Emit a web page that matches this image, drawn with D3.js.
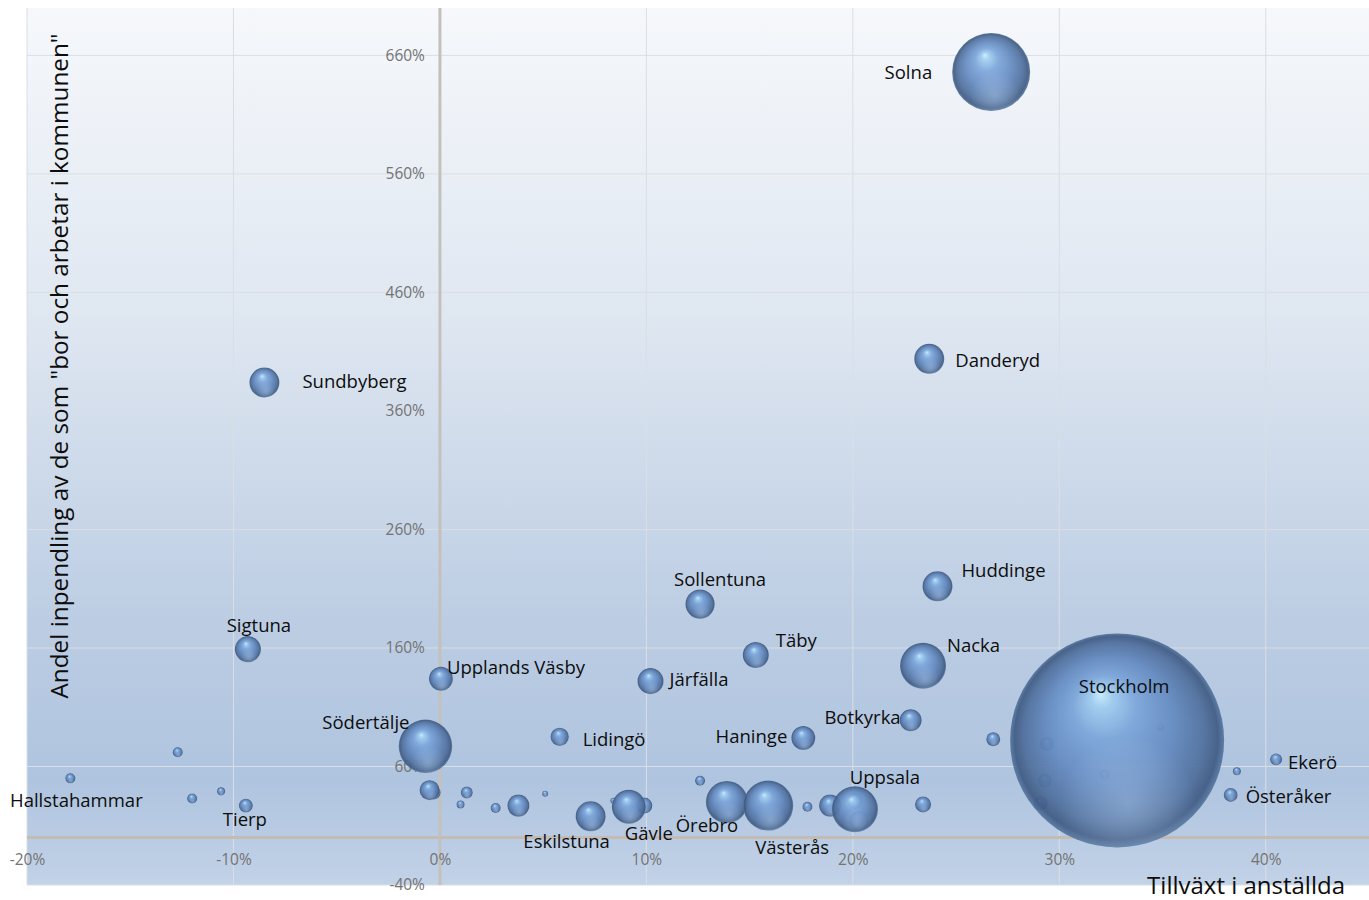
<!DOCTYPE html>
<html>
<head>
<meta charset="utf-8">
<script src="https://cdn.jsdelivr.net/npm/d3@7"></script>
<style>
  html, body { margin: 0; padding: 0; background: #ffffff; }
  svg { display: block; }
  text { font-family: "Open Sans", "DejaVu Sans", sans-serif; }
</style>
</head>
<body>
<svg id="chart" width="1369" height="900"></svg>
<script>
// ---------------- DATA ----------------
const municipalities = ["Solna","Danderyd","Sundbyberg","Huddinge","Sollentuna","Sigtuna","Täby","Nacka","Upplands Väsby","Järfälla","Stockholm","Botkyrka","Södertälje","Lidingö","Haninge","Ekerö","Österåker","Uppsala","Västerås","Örebro","Gävle","Eskilstuna","Hallstahammar","Tierp",
  "","","","","","","","","","","","","","","","","","","","","","","","",""];
// Tillväxt i anställda (%)
const growth = [26.7,23.7,-8.5,24.1,12.6,-9.3,15.3,23.4,0.05,10.2,32.8,22.8,-0.7,5.8,17.6,40.5,38.3,20.1,15.9,13.9,9.15,7.3,-17.9,-9.4,
  -12.7,-12.0,-10.6,-0.5,-0.3,1.0,1.3,2.7,3.8,5.1,8.4,9.9,12.6,17.8,18.9,20.1,20.3,23.4,26.8,29.4,29.3,29.1,32.2,34.9,38.6];
// Andel inpendling av de som "bor och arbetar i kommunen" (%)
const inpendling = [646,404,384,212,197,159,154,145,134,132,82,99,77,85,84,66,36,24,27,30,26,18,50,27,
  72,33,39,40,38,28,38,25,27,37,31,27,48,26,27,31,14,28,83,79,48,29,53,93,56];
// Bubble size (antal anställda, tusental)
const employees = [85,12.6,12.6,12.6,12,9.5,9.5,29.6,8,9.5,640,6.8,40,4.7,8,2.0,2.7,29.6,35,24.7,16.2,12.6,1.4,2.7,
  1.4,1.4,0.9,5.6,2.7,0.9,2.0,1.4,6.8,0.5,0.5,3.6,1.4,1.4,6.8,3.6,5.6,3.6,2.7,2.7,2.7,2.7,1.4,0.7,0.9];

const xTicks = [-20,-10,0,10,20,30,40];
const xTickLabels = ["-20%","-10%","0%","10%","20%","30%","40%"];
const yTicks = [-40,60,160,260,360,460,560,660];
const yTickLabels = ["-40%","60%","160%","260%","360%","460%","560%","660%"];

const xTitle = "Tillväxt i anställda";
const yTitle = "Andel inpendling av de som \"bor och arbetar i kommunen\"";

// ---------------- LAYOUT ----------------
const plot = { left: 27, right: 1369, top: 8, bottom: 885 };
// label placement relative to bubble centre
const labelPlacement = {
  "Solna": [-59, 0, "end"], "Danderyd": [26, 1, "start"], "Sundbyberg": [38, -2, "start"],
  "Huddinge": [24, -17, "start"], "Sollentuna": [20, -26, "middle"], "Sigtuna": [11, -25, "middle"],
  "Täby": [20, -16, "start"], "Nacka": [24, -21, "start"], "Upplands Väsby": [6, -12, "start"],
  "Järfälla": [19, -3, "start"], "Stockholm": [7, -55, "middle"], "Botkyrka": [-10, -4, "end"],
  "Södertälje": [-16, -25, "end"], "Lidingö": [23, 2, "start"], "Haninge": [-16, -3, "end"],
  "Ekerö": [12, 2, "start"], "Österåker": [15, 1, "start"], "Uppsala": [30, -33, "middle"],
  "Västerås": [24, 41, "middle"], "Örebro": [-20, 22, "middle"], "Gävle": [20, 26, "middle"],
  "Eskilstuna": [-24, 24, "middle"], "Hallstahammar": [6, 21, "middle"], "Tierp": [-1, 13, "middle"]
};

const svg = d3.select("#chart");
const defs = svg.append("defs");

const bg = defs.append("linearGradient").attr("id","bg").attr("x1",0).attr("y1",0).attr("x2",0).attr("y2",1);
[[0,"#f6f8fb"],[0.35,"#dfe7f1"],[0.7,"#bccde3"],[0.88,"#afc4df"],[1,"#c2d2e7"]].forEach(s =>
  bg.append("stop").attr("offset", s[0]).attr("stop-color", s[1]));

const bub = defs.append("radialGradient").attr("id","bubble")
  .attr("cx",0.5).attr("cy",0.5).attr("r",0.5).attr("fx",0.42).attr("fy",0.28);
[[0,"#c8effd"],[0.1,"#a0ccef"],[0.3,"#7ba5d9"],[0.6,"#6389bf"],[0.84,"#4f6f9c"],[0.95,"#3f5a83"],[1,"#56779f"]].forEach(s =>
  bub.append("stop").attr("offset", s[0]).attr("stop-color", s[1]));

const refl = defs.append("radialGradient").attr("id","refl")
  .attr("cx",0.55).attr("cy",0.8).attr("r",0.32);
[[0,"rgba(195,220,248,0.35)"],[1,"rgba(195,220,248,0)"]].forEach(s =>
  refl.append("stop").attr("offset", s[0]).attr("stop-color", s[1]));

const x = d3.scaleLinear().domain([-20, 45]).range([plot.left, plot.right]);
const y = d3.scaleLinear().domain([-40, 700]).range([plot.bottom, plot.top]);
const r = d3.scaleSqrt().domain([0, d3.max(employees)]).range([0, 107]);

// background
svg.append("rect").attr("x", plot.left).attr("y", plot.top)
  .attr("width", plot.right - plot.left).attr("height", plot.bottom - plot.top)
  .attr("fill", "url(#bg)");

// gridlines
svg.append("g").selectAll("line").data(xTicks).join("line")
  .attr("x1", d => x(d)).attr("x2", d => x(d)).attr("y1", plot.top).attr("y2", plot.bottom)
  .attr("stroke", "#dadee4").attr("stroke-width", 1);
svg.append("g").selectAll("line").data(yTicks).join("line")
  .attr("x1", plot.left).attr("x2", plot.right).attr("y1", d => y(d)).attr("y2", d => y(d))
  .attr("stroke", "#dadee4").attr("stroke-width", 1);

// axis lines
svg.append("line").attr("x1", plot.left).attr("x2", plot.right).attr("y1", y(0)).attr("y2", y(0))
  .attr("stroke", "#c4bcb3").attr("stroke-width", 3);
svg.append("line").attr("x1", x(0)).attr("x2", x(0)).attr("y1", plot.top).attr("y2", plot.bottom)
  .attr("stroke", "#c4c0bb").attr("stroke-width", 3);

// tick labels via d3 axes
const yAxis = svg.append("g").attr("transform", `translate(${x(0)},0)`)
  .call(d3.axisLeft(y).tickValues(yTicks).tickSize(0).tickPadding(15)
    .tickFormat((d, i) => yTickLabels[i]));
const xAxis = svg.append("g").attr("transform", `translate(0,${y(0)})`)
  .call(d3.axisBottom(x).tickValues(xTicks).tickSize(0).tickPadding(16)
    .tickFormat((d, i) => xTickLabels[i]));
[yAxis, xAxis].forEach(a => {
  a.select(".domain").remove();
  a.selectAll("text").attr("fill", "#737373").style("font-size", "15.5px")
    .style("font-family", "\"Open Sans\", sans-serif");
});

// bubbles
const data = municipalities.map((n, i) => ({ name: n, gx: growth[i], iy: inpendling[i], s: employees[i] }));
const order = data.slice().sort((a, b) => a.s - b.s);
const gB = svg.append("g");
order.forEach(d => {
  const cx = x(d.gx), cy = y(d.iy), rr = r(d.s);
  gB.append("circle").attr("cx", cx).attr("cy", cy).attr("r", rr)
    .attr("fill", "url(#bubble)").attr("fill-opacity", 0.92);
  gB.append("circle").attr("cx", cx).attr("cy", cy).attr("r", rr)
    .attr("fill", "url(#refl)");
});

// labels
const gL = svg.append("g");
data.filter(d => d.name).forEach(d => {
  const p = labelPlacement[d.name] || [r(d.s) + 8, 0, "start"];
  gL.append("text").attr("x", x(d.gx) + p[0]).attr("y", y(d.iy) + p[1])
    .attr("text-anchor", p[2]).attr("dominant-baseline", "central")
    .attr("fill", "#0d0d0d").style("font-size", "18.5px").text(d.name);
});

// axis titles
svg.append("text").attr("x", 1345).attr("y", 894).attr("text-anchor", "end")
  .attr("fill", "#0d0d0d").style("font-size", "24px").text(xTitle);
svg.append("text").attr("transform", `translate(68,366) rotate(-90)`).attr("text-anchor", "middle")
  .attr("fill", "#0d0d0d").style("font-size", "24.3px").text(yTitle);
</script>
</body>
</html>
